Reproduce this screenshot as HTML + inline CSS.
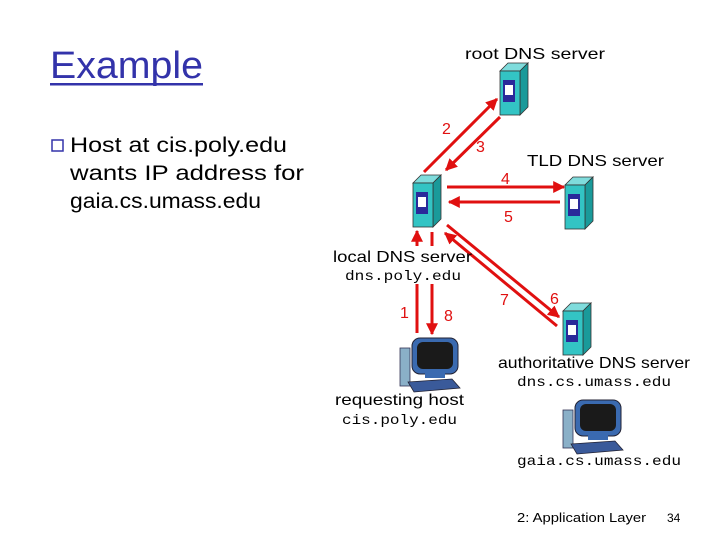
<!DOCTYPE html>
<html><head><meta charset="utf-8"><style>
html,body{margin:0;padding:0;background:#fff;}
svg{display:block;}
text{font-family:"Liberation Sans",sans-serif;}
.m{font-family:"Liberation Mono",monospace;}
</style></head><body>
<svg width="720" height="540" viewBox="0 0 720 540" xmlns="http://www.w3.org/2000/svg">
<defs>
<marker id="a" viewBox="0 0 10 10" refX="9" refY="5" markerWidth="4" markerHeight="4" orient="auto"><path d="M0,0L10,5L0,10z" fill="#e01010"/></marker>
<g id="srv">
<polygon points="0,8 8,0 28,0 20,8" fill="#7fdcdc" stroke="#333" stroke-width="0.8"/>
<polygon points="20,8 28,0 28,44 20,52" fill="#1a9a9a" stroke="#333" stroke-width="0.8"/>
<rect x="0" y="8" width="20" height="44" fill="#33c4c4" stroke="#333" stroke-width="0.8"/>
<rect x="3" y="17" width="12" height="22" fill="#2a2a9a"/>
<rect x="5" y="22" width="8" height="10" fill="#fff"/>
</g>
<g id="pc">
<rect x="0" y="10" width="10" height="38" fill="#8ab0c8" stroke="#335" stroke-width="0.8"/>
<rect x="12" y="0" width="46" height="36" rx="8" fill="#3a6ab0" stroke="#223" stroke-width="1"/>
<rect x="17" y="4" width="36" height="27" rx="6" fill="#1a1a1a"/>
<rect x="25" y="35" width="20" height="5" fill="#3a6ab0"/>
<polygon points="8,44 52,41 60,50 14,54" fill="#3a5a9a" stroke="#223" stroke-width="0.8"/>
</g>
</defs>
<text x="50" y="78" font-size="38" fill="#3333aa" textLength="153" lengthAdjust="spacingAndGlyphs">Example</text>
<rect x="50" y="83" width="153" height="2.5" fill="#3333aa"/>
<rect x="52" y="140" width="11" height="11" fill="none" stroke="#3333aa" stroke-width="1.5"/>
<text x="70" y="152" font-size="21" fill="#000" textLength="217" lengthAdjust="spacingAndGlyphs">Host at cis.poly.edu</text>
<text x="70" y="180" font-size="21" fill="#000" textLength="234" lengthAdjust="spacingAndGlyphs">wants IP address for</text>
<text x="70" y="208" font-size="21" fill="#000" textLength="191" lengthAdjust="spacingAndGlyphs">gaia.cs.umass.edu</text>

<text x="465" y="59" font-size="16" textLength="140" lengthAdjust="spacingAndGlyphs">root DNS server</text>
<text x="527" y="166" font-size="16" textLength="137" lengthAdjust="spacingAndGlyphs">TLD DNS server</text>

<g stroke="#e01010" stroke-width="3" fill="none">
<line x1="424" y1="172" x2="497" y2="99" marker-end="url(#a)"/>
<line x1="500" y1="117" x2="446" y2="170" marker-end="url(#a)"/>
<line x1="447" y1="187" x2="564" y2="187" marker-end="url(#a)"/>
<line x1="560" y1="202" x2="449" y2="202" marker-end="url(#a)"/>
<line x1="447" y1="225" x2="559" y2="317" marker-end="url(#a)"/>
<line x1="557" y1="326" x2="445" y2="233" marker-end="url(#a)"/>
<line x1="417" y1="333" x2="417" y2="231" marker-end="url(#a)"/>
<line x1="432" y1="232" x2="432" y2="334" marker-end="url(#a)"/>
</g>
<g font-size="16" fill="#e01010">
<text x="442" y="134">2</text><text x="476" y="152">3</text>
<text x="501" y="184">4</text><text x="504" y="222">5</text>
<text x="400" y="318">1</text><text x="444" y="321">8</text>
<text x="500" y="305">7</text><text x="550" y="304">6</text>
</g>
<use href="#srv" x="500" y="63"/>
<use href="#srv" x="413" y="175"/>
<use href="#srv" x="565" y="177"/>
<use href="#srv" x="563" y="303"/>

<rect x="400" y="246" width="40" height="38" fill="#fff"/>
<text x="333" y="262" font-size="16" textLength="139" lengthAdjust="spacingAndGlyphs">local DNS server</text>
<text x="345" y="280" font-size="14" class="m" textLength="116" lengthAdjust="spacingAndGlyphs">dns.poly.edu</text>

<use href="#pc" x="400" y="338"/>
<text x="335" y="405" font-size="16" textLength="129" lengthAdjust="spacingAndGlyphs">requesting host</text>
<text x="342" y="424" font-size="14" class="m" textLength="115" lengthAdjust="spacingAndGlyphs">cis.poly.edu</text>

<text x="498" y="368" font-size="16" textLength="192" lengthAdjust="spacingAndGlyphs">authoritative DNS server</text>
<text x="517" y="386" font-size="14" class="m" textLength="154" lengthAdjust="spacingAndGlyphs">dns.cs.umass.edu</text>

<use href="#pc" x="563" y="400"/>
<text x="517" y="465" font-size="14" class="m" textLength="164" lengthAdjust="spacingAndGlyphs">gaia.cs.umass.edu</text>

<text x="517" y="522" font-size="13" textLength="129" lengthAdjust="spacingAndGlyphs">2: Application Layer</text>
<text x="667" y="522" font-size="12">34</text>
</svg>
</body></html>
